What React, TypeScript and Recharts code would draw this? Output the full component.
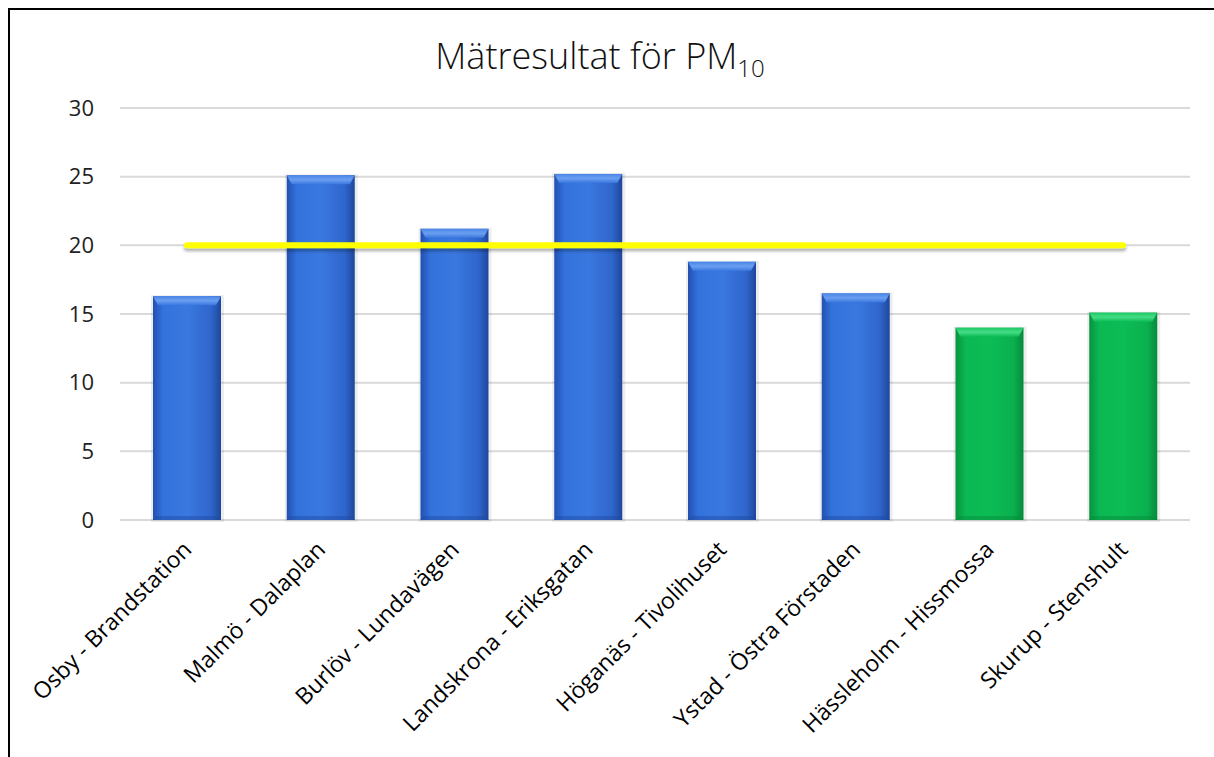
import React from "react"
import { ComposedChart, Bar, Line, Cell, XAxis, YAxis, CartesianGrid } from "recharts"

const stations = [
    "Osby - Brandstation",
    "Malmö - Dalaplan",
    "Burlöv - Lundavägen",
    "Landskrona - Eriksgatan",
    "Höganäs - Tivolihuset",
    "Ystad - Östra Förstaden",
    "Hässleholm - Hissmossa",
    "Skurup - Stenshult",
]
const pm10 = [16.3, 25.1, 21.2, 25.2, 18.8, 16.5, 14.0, 15.1]
const limitValue = 20
const greenStations = ["Hässleholm - Hissmossa", "Skurup - Stenshult"]
const yTicks = [0, 5, 10, 15, 20, 25, 30]

const data = stations.map((name, i) => ({ name, value: pm10[i], limit: limitValue }))

const font = "'Open Sans', 'DejaVu Sans', sans-serif"

const BarShape = (props: any) => {
    const { x, y, width, height, payload } = props
    const green = greenStations.includes(payload.name)
    const id = green ? "gGreen" : "gBlue"
    const top = green ? "gGreenTop" : "gBlueTop"
    const dark = green ? "#078a3a" : "#1f4aa0"
    return (
        <g>
            <rect x={x - 2} y={y - 1} width={width + 5} height={height + 3} fill="#000" opacity={0.07} />
            <rect x={x} y={y} width={width} height={height} fill={`url(#${id})`} />
            <path d={`M${x},${y} L${x + width},${y} L${x + width - 5},${y + 9} L${x + 5},${y + 9} Z`} fill={`url(#${top})`} />
            <path d={`M${x},${y + height} L${x + width},${y + height} L${x + width - 3},${y + height - 4} L${x + 3},${y + height - 4} Z`} fill={dark} opacity={0.45} />
        </g>
    )
}

const XTick = (props: any) => {
    const { x, y, payload } = props
    return (
        <text
            x={0}
            y={0}
            transform={`translate(${x + 6},${y + 23}) rotate(-45)`}
            textAnchor="end"
            fontSize={23}
            fontFamily={font}
            fill="#000"
        >
            {payload.value}
        </text>
    )
}

export default function App() {
    return (
        <div
            style={{
                position: "fixed",
                left: 8,
                top: 8,
                width: 1230,
                height: 760,
                borderTop: "2px solid #000",
                borderLeft: "2px solid #000",
                boxSizing: "border-box",
                background: "#fff",
                overflow: "hidden",
            }}
        >
            <div
                style={{
                    position: "absolute",
                    left: 0,
                    width: 1180,
                    top: 21,
                    textAlign: "center",
                    fontFamily: font,
                    fontSize: 36,
                    fontWeight: 300,
                    color: "#111",
                }}
            >
                Mätresultat för PM<sub style={{ fontSize: 24 }}>10</sub>
            </div>
            <ComposedChart
                width={1204}
                height={747}
                data={data}
                margin={{ top: 98, right: 24, bottom: 0, left: 0 }}
                barSize={68}
            >
                <defs>
                    <linearGradient id="gBlue" x1="0" y1="0" x2="1" y2="0">
                        <stop offset="0%" stopColor="#2350b0" />
                        <stop offset="15%" stopColor="#3372dc" />
                        <stop offset="50%" stopColor="#3a78e0" />
                        <stop offset="85%" stopColor="#2f66cc" />
                        <stop offset="100%" stopColor="#1f479c" />
                    </linearGradient>
                    <linearGradient id="gGreen" x1="0" y1="0" x2="1" y2="0">
                        <stop offset="0%" stopColor="#07933f" />
                        <stop offset="15%" stopColor="#0bb853" />
                        <stop offset="50%" stopColor="#0cbc55" />
                        <stop offset="85%" stopColor="#0ab04f" />
                        <stop offset="100%" stopColor="#078a3b" />
                    </linearGradient>
                    <linearGradient id="gBlueTop" x1="0" y1="0" x2="0" y2="1">
                        <stop offset="0%" stopColor="#4a86e8" />
                        <stop offset="50%" stopColor="#6a9ef0" />
                        <stop offset="100%" stopColor="#3a78e0" />
                    </linearGradient>
                    <linearGradient id="gGreenTop" x1="0" y1="0" x2="0" y2="1">
                        <stop offset="0%" stopColor="#1cc865" />
                        <stop offset="50%" stopColor="#45dc85" />
                        <stop offset="100%" stopColor="#0cbc55" />
                    </linearGradient>
                    <filter id="lineShadow" filterUnits="userSpaceOnUse" x="0" y="0" width="1204" height="747">
                        <feDropShadow dx="0" dy="3" stdDeviation="1.5" floodColor="#000" floodOpacity="0.3" />
                    </filter>
                </defs>
                <CartesianGrid vertical={false} stroke="#d9d9d9" strokeWidth={2} />
                <XAxis
                    dataKey="name"
                    axisLine={false}
                    tickLine={false}
                    height={237}
                    interval={0}
                    tick={<XTick />}
                />
                <YAxis
                    domain={[0, 30]}
                    ticks={yTicks}
                    width={110}
                    axisLine={false}
                    tickLine={false}
                    tickSize={0}
                    tickMargin={26}
                    tick={{ fontSize: 22, fontFamily: font, fill: "#222" }}
                />
                <Bar dataKey="value" shape={<BarShape />} isAnimationActive={false}>
                    {data.map((d) => (
                        <Cell key={d.name} fill={greenStations.includes(d.name) ? "#0bb853" : "#3372dc"} />
                    ))}
                </Bar>
                <Line
                    dataKey="limit"
                    type="linear"
                    stroke="#ffff00"
                    strokeWidth={6}
                    strokeLinecap="round"
                    filter="url(#lineShadow)"
                    dot={false}
                    activeDot={false}
                    isAnimationActive={false}
                />
            </ComposedChart>
        </div>
    )
}
